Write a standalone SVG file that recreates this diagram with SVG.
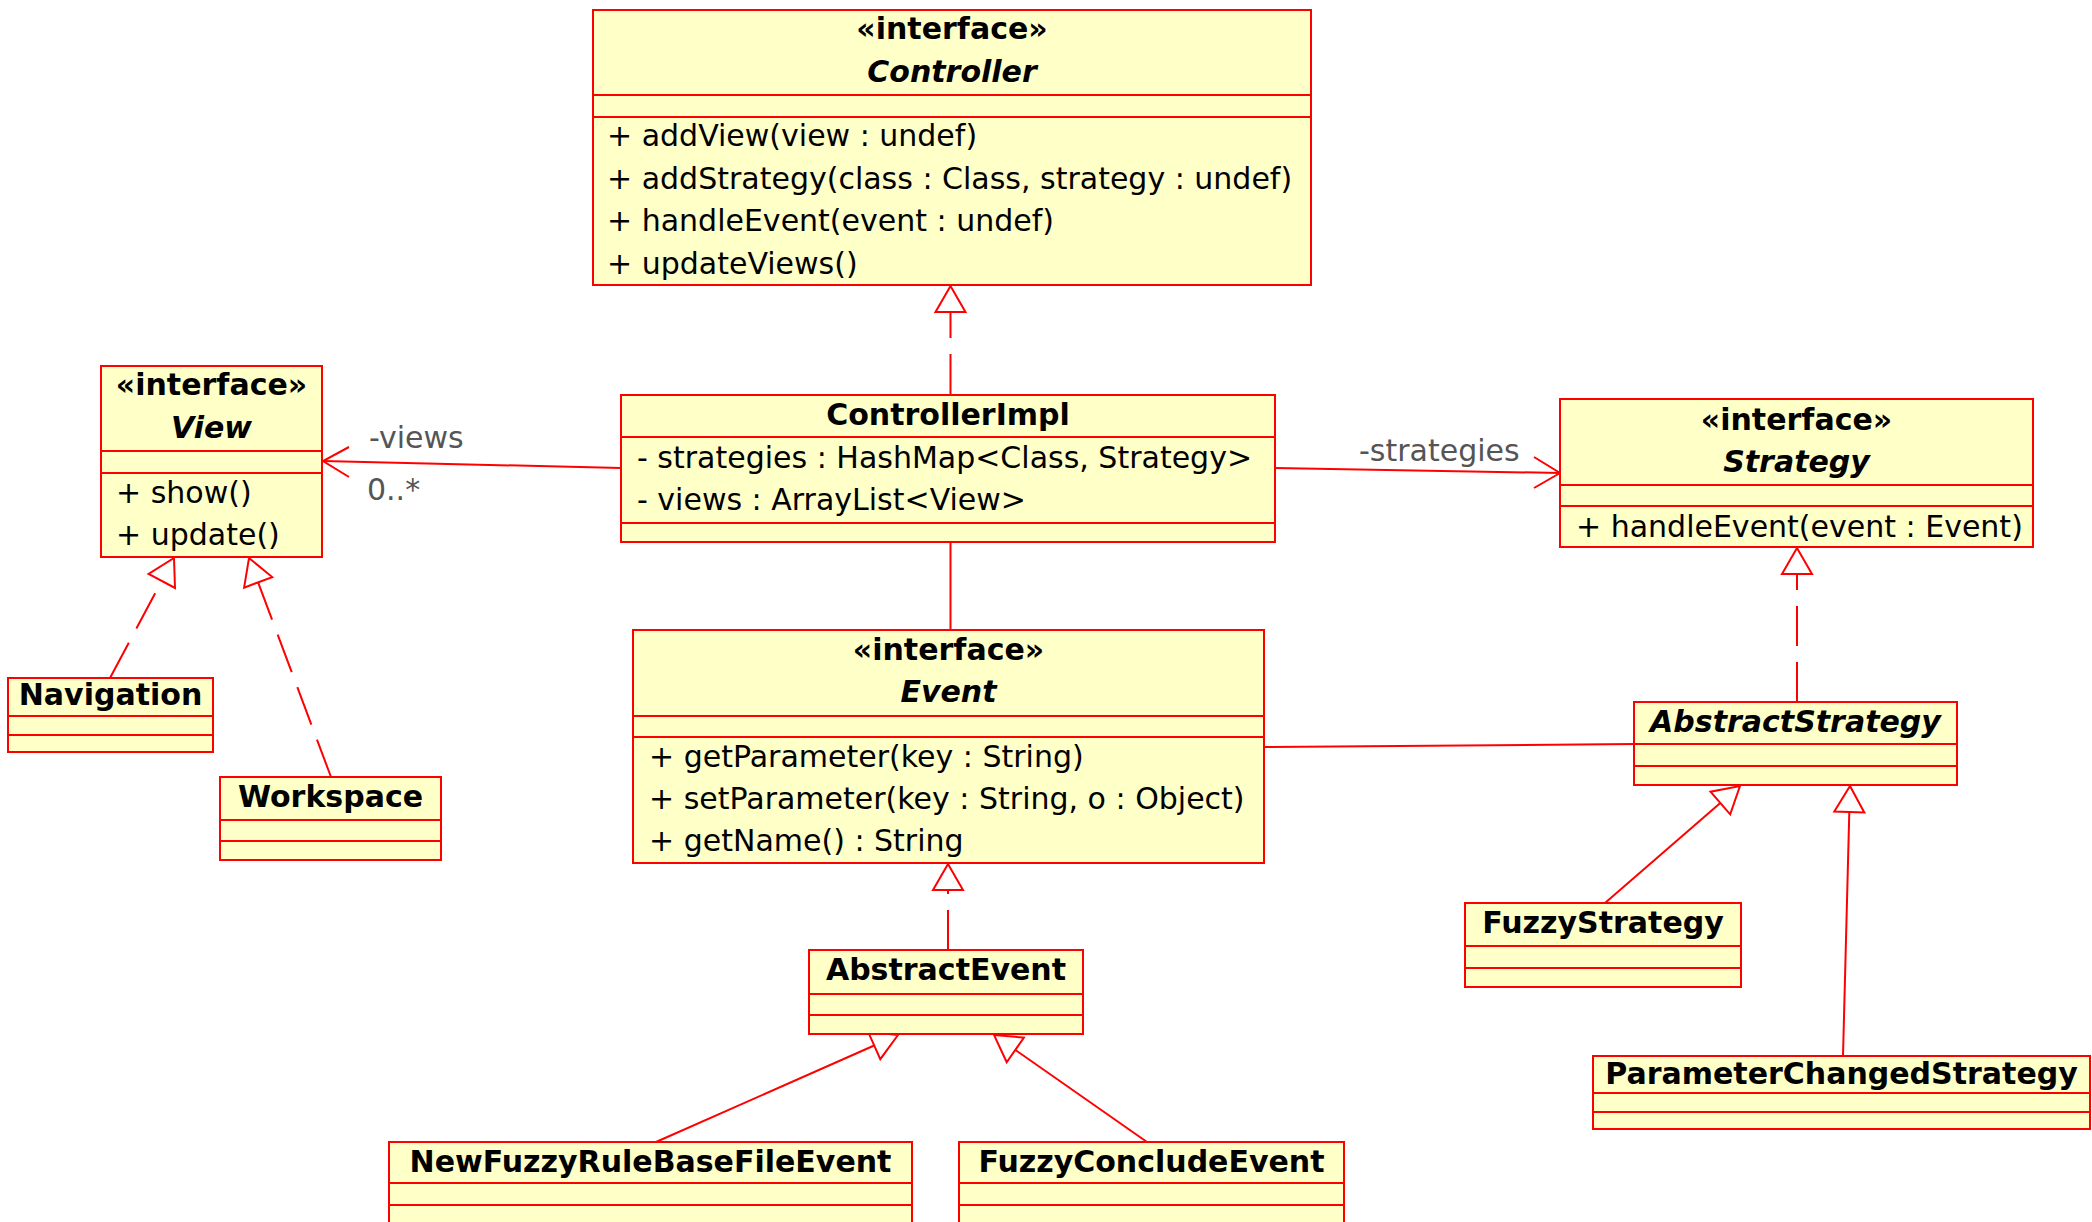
<svg xmlns="http://www.w3.org/2000/svg" width="2092" height="1222" viewBox="0 0 2092 1222">
<style>
.box{fill:#ffffc8;stroke:#ff0000;stroke-width:2}
.div{stroke:#ff0000;stroke-width:2}
text{font-family:"DejaVu Sans","Liberation Sans",sans-serif;font-size:30px;fill:#000}
.t{font-weight:bold;text-anchor:middle}
.ti{font-weight:bold;font-style:italic;text-anchor:middle}
.lbl{fill:#555}
.ln{fill:none;stroke:#ff0000;stroke-width:2}
.dash{stroke-dasharray:40 16}
.tri{fill:#fff;stroke:#ff0000;stroke-width:2}
</style>
<rect width="2092" height="1222" fill="#fff"/>
<g id="connectors">
<path class="ln dash" d="M950.5 394 V312"/>
<polygon class="tri" points="950.5,286 935.5,312 965.5,312"/>
<path class="ln" d="M621 468 L323 461"/>
<path class="ln" d="M349 447 L323 461 L349 477"/>
<text class="lbl" x="369" y="448">-views</text>
<text class="lbl" x="367" y="500">0..*</text>
<path class="ln" d="M1275 468 L1560 473"/>
<path class="ln" d="M1534 457 L1560 473 L1534 488"/>
<text class="lbl" x="1359" y="461">-strategies</text>
<path class="ln" d="M950.5 542 V630"/>
<path class="ln" d="M1264 747 L1634 744"/>
<path class="ln dash" d="M110 678 L161.8 580.9"/>
<polygon class="tri" points="174,558 175,588 148.6,573.9"/>
<path class="ln dash" d="M331 777 L258.1 582.4"/>
<polygon class="tri" points="249,558 272.2,577.1 244.1,587.6"/>
<path class="ln dash" d="M1797 702 V574"/>
<polygon class="tri" points="1797,548 1782,574 1812,574"/>
<path class="ln dash" d="M948 950 V890"/>
<polygon class="tri" points="948,864 933,890 963,890"/>
<path class="ln" d="M656 1142 L874.2 1045.5"/>
<polygon class="tri" points="898,1035 880.3,1059.2 868.1,1031.8"/>
<path class="ln" d="M1147 1142 L1015.3 1049.9"/>
<polygon class="tri" points="994,1035 1023.9,1037.6 1006.7,1062.2"/>
<path class="ln" d="M1605 903 L1720.3 803"/>
<polygon class="tri" points="1740,786 1730.2,814.4 1710.5,791.7"/>
<path class="ln" d="M1843 1056 L1849.3 812"/>
<polygon class="tri" points="1850,786 1864.3,812.4 1834.3,811.6"/>
</g>
<g id="Controller">
<rect class="box" x="593" y="10" width="718" height="275"/>
<path class="div" d="M593 95 H1311 M593 117 H1311"/>
<text class="t" x="952" y="39">«interface»</text>
<text class="ti" x="952" y="82">Controller</text>
<text x="607" y="146">+ addView(view : undef)</text>
<text x="607" y="189">+ addStrategy(class : Class, strategy : undef)</text>
<text x="607" y="231">+ handleEvent(event : undef)</text>
<text x="607" y="274">+ updateViews()</text>
</g>
<g id="ControllerImpl">
<rect class="box" x="621" y="395" width="654" height="147"/>
<path class="div" d="M621 437 H1275 M621 523 H1275"/>
<text class="t" x="948" y="425">ControllerImpl</text>
<text x="637" y="468">- strategies : HashMap&lt;Class, Strategy&gt;</text>
<text x="637" y="510">- views : ArrayList&lt;View&gt;</text>
</g>
<g id="View">
<rect class="box" x="101" y="366" width="221" height="191"/>
<path class="div" d="M101 451 H322 M101 473 H322"/>
<text class="t" x="211.5" y="395">«interface»</text>
<text class="ti" x="211.5" y="438">View</text>
<text x="116" y="503">+ show()</text>
<text x="116" y="545">+ update()</text>
</g>
<g id="Navigation">
<rect class="box" x="8" y="678" width="205" height="74"/>
<path class="div" d="M8 716 H213 M8 735 H213"/>
<text class="t" x="110.5" y="705">Navigation</text>
</g>
<g id="Workspace">
<rect class="box" x="220" y="777" width="221" height="83"/>
<path class="div" d="M220 820 H441 M220 841 H441"/>
<text class="t" x="330.5" y="807">Workspace</text>
</g>
<g id="Strategy">
<rect class="box" x="1560" y="399" width="473" height="148"/>
<path class="div" d="M1560 485 H2033 M1560 506 H2033"/>
<text class="t" x="1796.5" y="430">«interface»</text>
<text class="ti" x="1796.5" y="472">Strategy</text>
<text x="1576" y="537">+ handleEvent(event : Event)</text>
</g>
<g id="AbstractStrategy">
<rect class="box" x="1634" y="702" width="323" height="83"/>
<path class="div" d="M1634 744 H1957 M1634 766 H1957"/>
<text class="ti" x="1795.5" y="732">AbstractStrategy</text>
</g>
<g id="Event">
<rect class="box" x="633" y="630" width="631" height="233"/>
<path class="div" d="M633 716 H1264 M633 737 H1264"/>
<text class="t" x="948.5" y="660">«interface»</text>
<text class="ti" x="948.5" y="702">Event</text>
<text x="649" y="767">+ getParameter(key : String)</text>
<text x="649" y="809">+ setParameter(key : String, o : Object)</text>
<text x="649" y="851">+ getName() : String</text>
</g>
<g id="AbstractEvent">
<rect class="box" x="809" y="950" width="274" height="84"/>
<path class="div" d="M809 994 H1083 M809 1015 H1083"/>
<text class="t" x="946" y="980">AbstractEvent</text>
</g>
<g id="NewFuzzyRuleBaseFileEvent">
<rect class="box" x="389" y="1142" width="523" height="90"/>
<path class="div" d="M389 1183 H912 M389 1205 H912"/>
<text class="t" x="650.5" y="1172">NewFuzzyRuleBaseFileEvent</text>
</g>
<g id="FuzzyConcludeEvent">
<rect class="box" x="959" y="1142" width="385" height="90"/>
<path class="div" d="M959 1183 H1344 M959 1205 H1344"/>
<text class="t" x="1151.5" y="1172">FuzzyConcludeEvent</text>
</g>
<g id="FuzzyStrategy">
<rect class="box" x="1465" y="903" width="276" height="84"/>
<path class="div" d="M1465 946 H1741 M1465 968 H1741"/>
<text class="t" x="1603" y="933">FuzzyStrategy</text>
</g>
<g id="ParameterChangedStrategy">
<rect class="box" x="1593" y="1056" width="497" height="73"/>
<path class="div" d="M1593 1093 H2090 M1593 1112 H2090"/>
<text class="t" x="1841.5" y="1084">ParameterChangedStrategy</text>
</g>
</svg>
